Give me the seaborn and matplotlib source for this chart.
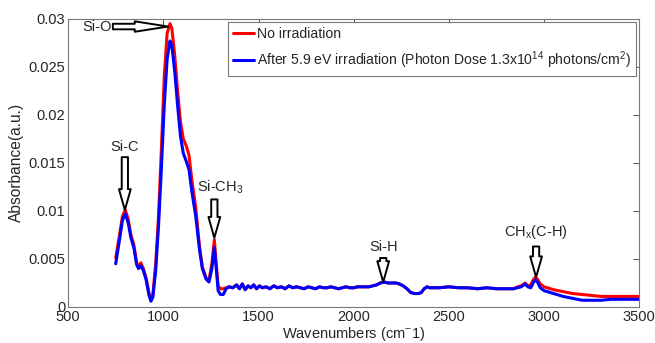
import numpy as np
import pandas as pd
import matplotlib
matplotlib.use('Agg')
import matplotlib.pyplot as plt
from matplotlib.ticker import FuncFormatter, MultipleLocator
import seaborn as sns

# wavenumbers (cm^-1)
wavenumber = [750, 770, 785, 800, 815, 830, 845, 860, 870, 882, 895, 910, 925, 935, 945,
              960, 975, 990, 1005, 1020, 1035, 1045, 1060, 1075, 1090, 1105, 1120, 1135,
              1150, 1170, 1190, 1205, 1225, 1240, 1255, 1268, 1278, 1288, 1300, 1315, 1330,
              1345, 1365, 1385, 1400, 1415, 1430, 1445, 1460, 1475, 1490, 1505, 1520, 1540,
              1560, 1580, 1600, 1620, 1640, 1660, 1680, 1700, 1720, 1740, 1760, 1780, 1800,
              1820, 1840, 1860, 1880, 1900, 1920, 1940, 1960, 1980, 2000, 2020, 2050, 2080,
              2100, 2120, 2140, 2160, 2180, 2200, 2220, 2240, 2260, 2280, 2300, 2320, 2340,
              2355, 2370, 2385, 2400, 2450, 2500, 2550, 2600, 2650, 2700, 2750, 2800, 2840,
              2860, 2880, 2900, 2915, 2930, 2945, 2955, 2965, 2980, 3000, 3050, 3100, 3150,
              3200, 3250, 3300, 3350, 3400, 3450, 3500]

no_irr = [0.0051, 0.0075, 0.0094, 0.0101, 0.0092, 0.0075, 0.0065, 0.0046, 0.0042, 0.0046,
          0.0040, 0.0030, 0.0014, 0.0009, 0.0013,
          0.0045, 0.0095, 0.0165, 0.0240, 0.0285, 0.0295, 0.0290, 0.0262, 0.0225, 0.0193,
          0.0175, 0.0168, 0.0158, 0.0132, 0.0104, 0.0063, 0.0042, 0.0030, 0.0028, 0.0045,
          0.0070, 0.0045, 0.0022, 0.0019, 0.0019, 0.0020,
          0.0021, 0.0020, 0.0023, 0.0019, 0.0024, 0.0018, 0.0022, 0.0020, 0.0023, 0.0019,
          0.0022, 0.0020, 0.0021, 0.0019, 0.0022, 0.0020, 0.0021, 0.0019, 0.0022, 0.0020,
          0.0021, 0.0020, 0.0019, 0.0021, 0.0020, 0.0019, 0.0021, 0.0020, 0.0020, 0.0021,
          0.0020, 0.0019, 0.0020, 0.0021, 0.0020, 0.0020, 0.0021, 0.0021, 0.0021,
          0.0022, 0.0023, 0.0025, 0.0026, 0.0025, 0.0025, 0.0025, 0.0024, 0.0022, 0.0019,
          0.0015, 0.0014, 0.0014, 0.0015, 0.0019, 0.0021, 0.0020, 0.0020, 0.0021, 0.0020,
          0.0020, 0.0019, 0.0020, 0.0019, 0.0019, 0.0019,
          0.0021, 0.0022, 0.0025, 0.0022, 0.0023, 0.0029, 0.0031, 0.0029, 0.0024, 0.0021,
          0.0018, 0.0016, 0.0014, 0.0013, 0.0012, 0.0011, 0.0011, 0.0011, 0.0011, 0.0011]

after_irr = [0.0045, 0.0070, 0.0090, 0.0097, 0.0088, 0.0072, 0.0062, 0.0044, 0.0040, 0.0043,
             0.0038, 0.0028, 0.0012, 0.0006, 0.0010,
             0.0038, 0.0085, 0.0145, 0.0210, 0.0258, 0.0277, 0.0272, 0.0245, 0.0210, 0.0178,
             0.0160, 0.0152, 0.0143, 0.0120, 0.0095, 0.0060, 0.0040, 0.0029, 0.0026, 0.0040,
             0.0062, 0.0040, 0.0017, 0.0013, 0.0013, 0.0019,
             0.0021, 0.0020, 0.0023, 0.0019, 0.0024, 0.0018, 0.0022, 0.0020, 0.0023, 0.0019,
             0.0022, 0.0020, 0.0021, 0.0019, 0.0022, 0.0020, 0.0021, 0.0019, 0.0022, 0.0020,
             0.0021, 0.0020, 0.0019, 0.0021, 0.0020, 0.0019, 0.0021, 0.0020, 0.0020, 0.0021,
             0.0020, 0.0019, 0.0020, 0.0021, 0.0020, 0.0020, 0.0021, 0.0021, 0.0021,
             0.0022, 0.0023, 0.0025, 0.0026, 0.0025, 0.0025, 0.0025, 0.0024, 0.0022, 0.0019,
             0.0015, 0.0014, 0.0014, 0.0015, 0.0019, 0.0021, 0.0020, 0.0020, 0.0021, 0.0020,
             0.0020, 0.0019, 0.0020, 0.0019, 0.0019, 0.0019,
             0.0020, 0.0021, 0.0024, 0.0021, 0.0020, 0.0026, 0.0028, 0.0026, 0.0020, 0.0017,
             0.0014, 0.0011, 0.0009, 0.0007, 0.0007, 0.0007, 0.0008, 0.0008, 0.0008, 0.0008]

series_labels = ['No irradiation',
                 'After 5.9 eV irradiation (Photon Dose 1.3x10$^{14}$ photons/cm$^{2}$)']

# peak labels: (text, text x, arrow x, text y, arrow start y, arrow tip y)
peaks = [('Si-C', 798, 798, 0.0159, 0.0156, 0.0101),
         ('Si-CH$_3$', 1300, 1268, 0.0116, 0.0112, 0.0072),
         ('Si-H', 2155, 2155, 0.0055, 0.0051, 0.0026),
         ('CH$_x$(C-H)', 2955, 2958, 0.0069, 0.0063, 0.0031)]

df = pd.DataFrame({'wn': wavenumber * 2,
                   'absorb': no_irr + after_irr,
                   'kind': [series_labels[0]] * len(wavenumber) + [series_labels[1]] * len(wavenumber)})

sns.set_style('white')
plt.rcParams['font.family'] = ['Liberation Sans', 'DejaVu Sans']
plt.rcParams['mathtext.fontset'] = 'custom'
plt.rcParams['mathtext.rm'] = 'Liberation Sans'
plt.rcParams['mathtext.it'] = 'Liberation Sans'

fig = plt.figure(figsize=(6.55, 3.43), dpi=100)
ax = fig.add_axes([0.104, 0.105, 0.872, 0.840])

sns.lineplot(data=df, x='wn', y='absorb', hue='kind', palette=['#ff0000', '#0000ff'],
             linewidth=2.2, sort=False, ax=ax)

ax.set_xlim(500, 3500)
ax.set_ylim(0, 0.03)
ax.xaxis.set_major_locator(MultipleLocator(500))
ax.yaxis.set_major_locator(MultipleLocator(0.005))
ax.yaxis.set_major_formatter(FuncFormatter(lambda v, p: '%g' % round(v, 4)))
ax.tick_params(direction='in', top=True, right=True, length=4, width=0.7,
               labelsize=10.5, color='#555555', pad=2)
for s in ax.spines.values():
    s.set_color('#777777')
    s.set_linewidth(0.8)
ax.set_xlabel('Wavenumbers (cm$^{-}$1)', fontsize=10.5, labelpad=1)
ax.set_ylabel('Absorbance(a.u.)', fontsize=11.2, labelpad=3)

leg = ax.legend(loc='upper right', fontsize=10.1, handlelength=1.5, handletextpad=0.2,
                borderpad=0.35, labelspacing=0.6, fancybox=False, framealpha=1,
                borderaxespad=0.25)
leg.get_frame().set_edgecolor('#777777')
leg.get_frame().set_linewidth(0.8)
for h in leg.get_lines():
    h.set_linewidth(2.2)

vert = dict(arrowstyle='simple,head_length=1.5,head_width=0.85,tail_width=0.45',
            mutation_scale=10, fc='white', ec='black', lw=1.4, shrinkA=0, shrinkB=0)
horiz = dict(arrowstyle='simple,head_length=2.4,head_width=0.75,tail_width=0.4',
             mutation_scale=10, fc='white', ec='black', lw=1.4, shrinkA=0, shrinkB=0)

# Si-O horizontal arrow
ax.annotate('', xy=(1025, 0.0292), xytext=(735, 0.0292), arrowprops=horiz)
ax.text(728, 0.0292, 'Si-O', ha='right', va='center', fontsize=10.5)

for name, tx, x, ty, y0, y1 in peaks:
    ax.annotate('', xy=(x, y1), xytext=(x, y0), arrowprops=vert)
    ax.text(tx, ty, name, ha='center', va='bottom', fontsize=10.5)

fig.savefig('out.png', dpi=100)
